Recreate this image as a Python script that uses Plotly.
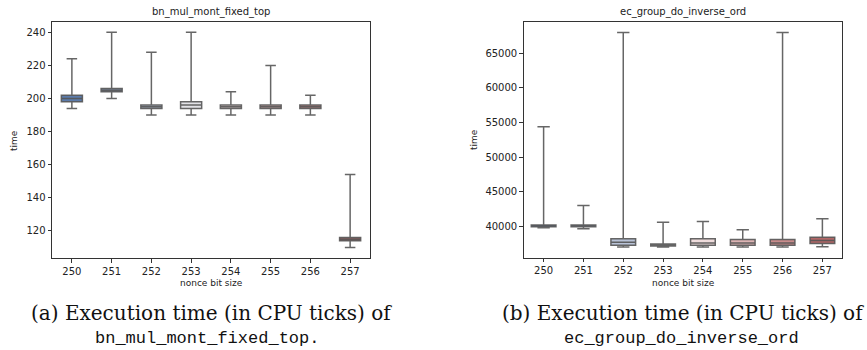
import plotly.graph_objects as go

bits = [250, 251, 252, 253, 254, 255, 256, 257]
colors = ["#5b7bab", "#8ca0c2", "#b9c3d7", "#e3e3e7", "#efdcdc", "#ddb4b4", "#c98c8c", "#b26767"]

# bn_mul_mont_fixed_top
a_low = [194, 200, 190, 190, 190, 190, 190, 110]
a_q1 = [198, 204, 194, 194, 194, 194, 194, 114]
a_med = [200, 205, 195, 196, 195, 195, 195, 115]
a_q3 = [202, 206, 196, 198, 196, 196, 196, 116]
a_high = [224, 240, 228, 240, 204, 220, 202, 154]

# ec_group_do_inverse_ord
b_low = [39800, 39650, 37000, 37000, 37000, 37000, 37000, 37050]
b_q1 = [39950, 39950, 37250, 37150, 37250, 37250, 37250, 37500]
b_med = [40050, 40050, 37700, 37300, 37600, 37600, 37600, 37950]
b_q3 = [40200, 40200, 38200, 37450, 38200, 38100, 38100, 38400]
b_high = [54400, 43000, 68000, 40600, 40700, 39500, 68000, 41100]

a_ticks = [120, 140, 160, 180, 200, 220, 240]
b_ticks = [40000, 45000, 50000, 55000, 60000, 65000]

W, H = 867, 350
fig = go.Figure()

def add_boxes(low, q1, med, q3, high, xa, ya, width):
    for i, b in enumerate(bits):
        fig.add_trace(go.Box(
            x=[b], q1=[q1[i]], median=[med[i]], q3=[q3[i]],
            lowerfence=[low[i]], upperfence=[high[i]],
            fillcolor=colors[i], boxpoints=False, width=width,
            whiskerwidth=0.5,
            line=dict(color="rgba(85,85,85,0.9)", width=1.5),
            xaxis=xa, yaxis=ya, showlegend=False, hoverinfo="skip",
        ))

add_boxes(a_low, a_q1, a_med, a_q3, a_high, "x", "y", 0.53)
add_boxes(b_low, b_q1, b_med, b_q3, b_high, "x2", "y2", 0.62)

font = dict(family="DejaVu Sans", size=10, color="#222")
ax_common = dict(showline=True, mirror=True, linecolor="#333", linewidth=1,
                 ticks="outside", ticklen=3.5, tickcolor="#333", tickwidth=0.8,
                 showgrid=False, zeroline=False, tickfont=font)

def px2x(p):
    return p / W

def py2y(p):
    return 1 - p / H

fig.update_layout(
    width=W, height=H, margin=dict(l=0, r=0, t=0, b=0),
    paper_bgcolor="white", plot_bgcolor="white", boxmode="overlay",
    xaxis=dict(domain=[px2x(52), px2x(370)], range=[249.5, 257.5],
               tickvals=bits, ticktext=[str(b) for b in bits], anchor="y", **ax_common),
    yaxis=dict(domain=[py2y(258), py2y(21.7)], range=[103.6, 246.4],
               tickvals=a_ticks, ticktext=[str(t) for t in a_ticks], anchor="x", **ax_common),
    xaxis2=dict(domain=[px2x(523.7), px2x(842.3)], range=[249.5, 257.5],
                tickvals=bits, ticktext=[str(b) for b in bits], anchor="y2", **ax_common),
    yaxis2=dict(domain=[py2y(257.7), py2y(21.7)], range=[35460, 69570],
                tickvals=b_ticks, ticktext=[str(t) for t in b_ticks], anchor="x2", **ax_common),
)

def ann(text, x, y, size, family, angle=0, color="#222"):
    fig.add_annotation(text=text, x=px2x(x), y=py2y(y), xref="paper", yref="paper",
                       showarrow=False, xanchor="center", yanchor="middle",
                       textangle=angle, font=dict(family=family, size=size, color=color))

ann("bn_mul_mont_fixed_top", 211, 12, 10, "DejaVu Sans")
ann("ec_group_do_inverse_ord", 683, 12, 10, "DejaVu Sans")
ann("nonce bit size", 211, 283, 9, "DejaVu Sans")
ann("nonce bit size", 683, 283, 9, "DejaVu Sans")
ann("time", 14, 140, 9, "DejaVu Sans", angle=-90)
ann("time", 474, 140, 9, "DejaVu Sans", angle=-90)

serif = "DejaVu Serif"
mono = "Liberation Mono"
ann("(a) Execution time (in CPU ticks) of", 211, 313, 20, serif, color="#111")
ann("bn_mul_mont_fixed_top.", 207, 338, 17, mono, color="#111")
ann("(b) Execution time (in CPU ticks) of", 683, 313, 20, serif, color="#111")
ann("ec_group_do_inverse_ord", 681, 338, 17, mono, color="#111")

fig.write_html("out.html", config={"displayModeBar": False},
               post_script="document.body.style.margin='0';document.body.style.overflow='hidden';")
